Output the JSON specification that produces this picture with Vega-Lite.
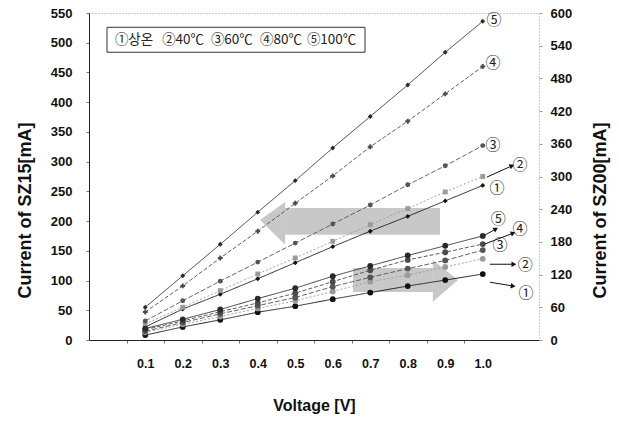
{
  "$schema": "https://vega.github.io/schema/vega-lite/v6.json",
  "width": 450,
  "height": 327,
  "autosize": "none",
  "padding": {"left": 89, "top": 13, "right": 80, "bottom": 81},
  "background": "white",
  "config": {
    "font": "Liberation Sans",
    "view": {"stroke": "#999", "strokeDash": [1, 2], "strokeWidth": 1},
    "axis": {"labelColor": "#111", "titleColor": "#111", "grid": false, "labelFont": "Liberation Sans", "titleFont": "Liberation Sans", "labelOverlap": false}
  },
  "datasets": {
    "sz15": [
      {"series": "①상온", "v": 0.1, "mA": 22}, {"series": "①상온", "v": 0.2, "mA": 52}, {"series": "①상온", "v": 0.3, "mA": 77}, {"series": "①상온", "v": 0.4, "mA": 103}, {"series": "①상온", "v": 0.5, "mA": 130},
      {"series": "①상온", "v": 0.6, "mA": 157}, {"series": "①상온", "v": 0.7, "mA": 183}, {"series": "①상온", "v": 0.8, "mA": 208}, {"series": "①상온", "v": 0.9, "mA": 234}, {"series": "①상온", "v": 1.0, "mA": 260},
      {"series": "②40℃", "v": 0.1, "mA": 27}, {"series": "②40℃", "v": 0.2, "mA": 55}, {"series": "②40℃", "v": 0.3, "mA": 83}, {"series": "②40℃", "v": 0.4, "mA": 111}, {"series": "②40℃", "v": 0.5, "mA": 138},
      {"series": "②40℃", "v": 0.6, "mA": 166}, {"series": "②40℃", "v": 0.7, "mA": 194}, {"series": "②40℃", "v": 0.8, "mA": 221}, {"series": "②40℃", "v": 0.9, "mA": 249}, {"series": "②40℃", "v": 1.0, "mA": 275},
      {"series": "③60℃", "v": 0.1, "mA": 32}, {"series": "③60℃", "v": 0.2, "mA": 66}, {"series": "③60℃", "v": 0.3, "mA": 99}, {"series": "③60℃", "v": 0.4, "mA": 131}, {"series": "③60℃", "v": 0.5, "mA": 163},
      {"series": "③60℃", "v": 0.6, "mA": 195}, {"series": "③60℃", "v": 0.7, "mA": 227}, {"series": "③60℃", "v": 0.8, "mA": 261}, {"series": "③60℃", "v": 0.9, "mA": 293}, {"series": "③60℃", "v": 1.0, "mA": 327},
      {"series": "④80℃", "v": 0.1, "mA": 47}, {"series": "④80℃", "v": 0.2, "mA": 91}, {"series": "④80℃", "v": 0.3, "mA": 138}, {"series": "④80℃", "v": 0.4, "mA": 183}, {"series": "④80℃", "v": 0.5, "mA": 230},
      {"series": "④80℃", "v": 0.6, "mA": 276}, {"series": "④80℃", "v": 0.7, "mA": 325}, {"series": "④80℃", "v": 0.8, "mA": 368}, {"series": "④80℃", "v": 0.9, "mA": 414}, {"series": "④80℃", "v": 1.0, "mA": 460},
      {"series": "⑤100℃", "v": 0.1, "mA": 55}, {"series": "⑤100℃", "v": 0.2, "mA": 108}, {"series": "⑤100℃", "v": 0.3, "mA": 161}, {"series": "⑤100℃", "v": 0.4, "mA": 215}, {"series": "⑤100℃", "v": 0.5, "mA": 268},
      {"series": "⑤100℃", "v": 0.6, "mA": 323}, {"series": "⑤100℃", "v": 0.7, "mA": 376}, {"series": "⑤100℃", "v": 0.8, "mA": 429}, {"series": "⑤100℃", "v": 0.9, "mA": 484}, {"series": "⑤100℃", "v": 1.0, "mA": 536}
    ],
    "sz00": [
      {"series": "①상온", "v": 0.1, "mA": 9}, {"series": "①상온", "v": 0.2, "mA": 24}, {"series": "①상온", "v": 0.3, "mA": 37}, {"series": "①상온", "v": 0.4, "mA": 51}, {"series": "①상온", "v": 0.5, "mA": 62},
      {"series": "①상온", "v": 0.6, "mA": 75}, {"series": "①상온", "v": 0.7, "mA": 87}, {"series": "①상온", "v": 0.8, "mA": 99}, {"series": "①상온", "v": 0.9, "mA": 110}, {"series": "①상온", "v": 1.0, "mA": 121},
      {"series": "②40℃", "v": 0.1, "mA": 14}, {"series": "②40℃", "v": 0.2, "mA": 29}, {"series": "②40℃", "v": 0.3, "mA": 43}, {"series": "②40℃", "v": 0.4, "mA": 58}, {"series": "②40℃", "v": 0.5, "mA": 72},
      {"series": "②40℃", "v": 0.6, "mA": 89}, {"series": "②40℃", "v": 0.7, "mA": 107}, {"series": "②40℃", "v": 0.8, "mA": 119}, {"series": "②40℃", "v": 0.9, "mA": 134}, {"series": "②40℃", "v": 1.0, "mA": 149},
      {"series": "③60℃", "v": 0.1, "mA": 16}, {"series": "③60℃", "v": 0.2, "mA": 32}, {"series": "③60℃", "v": 0.3, "mA": 48}, {"series": "③60℃", "v": 0.4, "mA": 63}, {"series": "③60℃", "v": 0.5, "mA": 78},
      {"series": "③60℃", "v": 0.6, "mA": 98}, {"series": "③60℃", "v": 0.7, "mA": 115}, {"series": "③60℃", "v": 0.8, "mA": 131}, {"series": "③60℃", "v": 0.9, "mA": 146}, {"series": "③60℃", "v": 1.0, "mA": 165},
      {"series": "④80℃", "v": 0.1, "mA": 19}, {"series": "④80℃", "v": 0.2, "mA": 35}, {"series": "④80℃", "v": 0.3, "mA": 52}, {"series": "④80℃", "v": 0.4, "mA": 68}, {"series": "④80℃", "v": 0.5, "mA": 86},
      {"series": "④80℃", "v": 0.6, "mA": 107}, {"series": "④80℃", "v": 0.7, "mA": 128}, {"series": "④80℃", "v": 0.8, "mA": 147}, {"series": "④80℃", "v": 0.9, "mA": 161}, {"series": "④80℃", "v": 1.0, "mA": 176},
      {"series": "⑤100℃", "v": 0.1, "mA": 21}, {"series": "⑤100℃", "v": 0.2, "mA": 38}, {"series": "⑤100℃", "v": 0.3, "mA": 56}, {"series": "⑤100℃", "v": 0.4, "mA": 76}, {"series": "⑤100℃", "v": 0.5, "mA": 95},
      {"series": "⑤100℃", "v": 0.6, "mA": 117}, {"series": "⑤100℃", "v": 0.7, "mA": 136}, {"series": "⑤100℃", "v": 0.8, "mA": 155}, {"series": "⑤100℃", "v": 0.9, "mA": 173}, {"series": "⑤100℃", "v": 1.0, "mA": 191}
    ],
    "key": [
      {"label": "①상온", "v": 0.019}, {"label": "②40℃", "v": 0.145}, {"label": "③60℃", "v": 0.275},
      {"label": "④80℃", "v": 0.406}, {"label": "⑤100℃", "v": 0.531}
    ],
    "keyBox": [{"from": -0.002, "to": 0.686, "lo": 484, "hi": 526}],
    "tags15": [
      {"tag": "⑤", "v": 1.03, "mA": 538}, {"tag": "④", "v": 1.027, "mA": 466}, {"tag": "③", "v": 1.027, "mA": 328},
      {"tag": "②", "v": 1.099, "mA": 294}, {"tag": "①", "v": 1.038, "mA": 256}
    ],
    "tags00": [
      {"tag": "⑤", "v": 1.041, "mA": 222}, {"tag": "④", "v": 1.099, "mA": 204}, {"tag": "③", "v": 1.046, "mA": 174},
      {"tag": "②", "v": 1.113, "mA": 138}, {"tag": "①", "v": 1.115, "mA": 86}
    ],
    "pointers15": [
      {"tag": "②", "v": 1.011, "mA": 274, "v2": 1.078, "mA2": 293}
    ],
    "pointers00": [
      {"tag": "⑤", "v": 1.005, "mA": 192, "v2": 1.035, "mA2": 204},
      {"tag": "④", "v": 1.005, "mA": 176, "v2": 1.081, "mA2": 196},
      {"tag": "②", "v": 1.019, "mA": 139, "v2": 1.083, "mA2": 139},
      {"tag": "①", "v": 1.019, "mA": 106, "v2": 1.081, "mA2": 99}
    ],
    "shaft15": [{"from": 0.473, "to": 0.886, "lo": 177, "hi": 222}],
    "head15": [{"v": 0.406, "lo": 202, "hi": 202}, {"v": 0.473, "lo": 160, "hi": 232}],
    "shaft00": [{"from": 0.654, "to": 0.867, "lo": 88, "hi": 132}],
    "head00": [{"v": 0.867, "lo": 70, "hi": 147}, {"v": 0.934, "lo": 110, "hi": 110}]
  },
  "layer": [
    {
      "layer": [
        {
          "data": {"name": "shaft15"},
          "mark": {"type": "rect", "fill": "#b0b0b0", "opacity": 0.7},
          "encoding": {
            "x": {
              "field": "from", "type": "quantitative",
              "scale": {"domain": [-0.05, 1.15], "nice": false, "zero": false},
              "axis": {
                "values": [0.1, 0.2, 0.3, 0.4, 0.5, 0.6, 0.7, 0.8, 0.9, 1.0],
                "tickCount": 20,
                "format": ".1f",
                "title": "Voltage [V]",
                "titleFontSize": 16, "titleFontWeight": "bold", "titlePadding": 28,
                "labelFontSize": 12.5, "labelFontWeight": "bold", "labelPadding": 14,
                "labelOverlap": false,
                "domainColor": "#222", "tickColor": "#777", "tickSize": 3,
                "tickOffset": -18.75, "labelOffset": 18.75
              }
            },
            "x2": {"field": "to"},
            "y": {
              "field": "lo", "type": "quantitative",
              "scale": {"domain": [0, 550], "nice": false},
              "axis": {
                "orient": "left",
                "values": [0, 50, 100, 150, 200, 250, 300, 350, 400, 450, 500, 550],
                "tickCount": 20,
                "title": "Current of  SZ15[mA]",
                "titleFontSize": 18, "titleFontWeight": "bold", "titlePadding": 16,
                "titleY": 197,
                "labelFontSize": 13, "labelFontWeight": "bold", "labelPadding": 14,
                "labelOverlap": false,
                "domainColor": "#222", "tickColor": "#777", "tickSize": 3
              }
            },
            "y2": {"field": "hi"}
          }
        },
        {
          "data": {"name": "head15"},
          "mark": {"type": "area", "fill": "#b0b0b0", "opacity": 0.7},
          "encoding": {
            "x": {"field": "v", "type": "quantitative"},
            "y": {"field": "lo", "type": "quantitative"},
            "y2": {"field": "hi"}
          }
        },
        {
          "data": {"name": "sz15"},
          "mark": {"type": "line", "strokeWidth": 0.9},
          "encoding": {
            "x": {"field": "v", "type": "quantitative"},
            "y": {"field": "mA", "type": "quantitative"},
            "color": {
              "field": "series", "type": "nominal",
              "scale": {
                "domain": ["①상온", "②40℃", "③60℃", "④80℃", "⑤100℃"],
                "range": ["#111111", "#9a9a9a", "#555555", "#4a4a4a", "#2a2a2a"]
              },
              "legend": null
            },
            "strokeDash": {
              "field": "series", "type": "nominal",
              "scale": {
                "domain": ["①상온", "②40℃", "③60℃", "④80℃", "⑤100℃"],
                "range": [[1, 0], [2, 2], [5, 2], [4, 2], [1, 0]]
              },
              "legend": null
            }
          }
        },
        {
          "data": {"name": "sz15"},
          "mark": {"type": "point", "filled": true, "size": 24, "opacity": 1},
          "encoding": {
            "x": {"field": "v", "type": "quantitative"},
            "y": {"field": "mA", "type": "quantitative"},
            "color": {"field": "series", "type": "nominal", "legend": null},
            "shape": {
              "field": "series", "type": "nominal", "legend": null,
              "scale": {
                "domain": ["①상온", "②40℃", "③60℃", "④80℃", "⑤100℃"],
                "range": ["diamond", "square", "circle", "cross", "diamond"]
              }
            }
          }
        },
        {
          "data": {"name": "pointers15"},
          "mark": {"type": "rule", "color": "#111", "strokeWidth": 1},
          "encoding": {
            "x": {"field": "v", "type": "quantitative"},
            "y": {"field": "mA", "type": "quantitative"},
            "x2": {"field": "v2"},
            "y2": {"field": "mA2"}
          }
        },
        {
          "data": {"name": "pointers15"},
          "mark": {"type": "point", "shape": "triangle-right", "filled": true, "color": "#111", "size": 30, "angle": -24, "opacity": 1},
          "encoding": {
            "x": {"field": "v2", "type": "quantitative"},
            "y": {"field": "mA2", "type": "quantitative"}
          }
        },
        {
          "data": {"name": "tags15"},
          "mark": {"type": "text", "font": "Noto Sans CJK KR", "fontSize": 15, "color": "#222"},
          "encoding": {
            "x": {"field": "v", "type": "quantitative"},
            "y": {"field": "mA", "type": "quantitative"},
            "text": {"field": "tag"}
          }
        },
        {
          "data": {"name": "keyBox"},
          "mark": {"type": "rect", "fill": "white", "stroke": "#333", "strokeWidth": 1},
          "encoding": {
            "x": {"field": "from", "type": "quantitative"},
            "x2": {"field": "to"},
            "y": {"field": "lo", "type": "quantitative"},
            "y2": {"field": "hi"}
          }
        },
        {
          "data": {"name": "key"},
          "mark": {"type": "text", "font": "Noto Sans CJK KR", "fontSize": 13.5, "color": "#222", "align": "left", "baseline": "middle"},
          "encoding": {
            "x": {"field": "v", "type": "quantitative"},
            "y": {"datum": 505, "type": "quantitative"},
            "text": {"field": "label"}
          }
        }
      ]
    },
    {
      "layer": [
        {
          "data": {"name": "shaft00"},
          "mark": {"type": "rect", "fill": "#b0b0b0", "opacity": 0.7},
          "encoding": {
            "x": {"field": "from", "type": "quantitative"},
            "x2": {"field": "to"},
            "y": {
              "field": "lo", "type": "quantitative",
              "scale": {"domain": [0, 600], "nice": false},
              "axis": {
                "orient": "right",
                "values": [0, 60, 120, 180, 240, 300, 360, 420, 480, 540, 600],
                "tickCount": 20,
                "title": "Current of  SZ00[mA]",
                "titleAngle": 270,
                "titleFontSize": 18, "titleFontWeight": "bold", "titlePadding": 38,
                "titleY": 197,
                "labelFontSize": 13, "labelFontWeight": "bold", "labelPadding": 8,
                "labelOverlap": false,
                "domain": false, "tickColor": "#999", "tickSize": 3
              }
            },
            "y2": {"field": "hi"}
          }
        },
        {
          "data": {"name": "head00"},
          "mark": {"type": "area", "fill": "#b0b0b0", "opacity": 0.7},
          "encoding": {
            "x": {"field": "v", "type": "quantitative"},
            "y": {"field": "lo", "type": "quantitative"},
            "y2": {"field": "hi"}
          }
        },
        {
          "data": {"name": "sz00"},
          "mark": {"type": "line", "strokeWidth": 0.9},
          "encoding": {
            "x": {"field": "v", "type": "quantitative"},
            "y": {"field": "mA", "type": "quantitative"},
            "color": {"field": "series", "type": "nominal", "legend": null},
            "strokeDash": {"field": "series", "type": "nominal", "legend": null}
          }
        },
        {
          "data": {"name": "sz00"},
          "mark": {"type": "point", "filled": true, "size": 34, "shape": "circle", "opacity": 1},
          "encoding": {
            "x": {"field": "v", "type": "quantitative"},
            "y": {"field": "mA", "type": "quantitative"},
            "color": {"field": "series", "type": "nominal", "legend": null}
          }
        },
        {
          "data": {"name": "pointers00"},
          "mark": {"type": "rule", "color": "#111", "strokeWidth": 1},
          "encoding": {
            "x": {"field": "v", "type": "quantitative"},
            "y": {"field": "mA", "type": "quantitative"},
            "x2": {"field": "v2"},
            "y2": {"field": "mA2"}
          }
        },
        {
          "data": {"name": "pointers00"},
          "transform": [{"filter": "datum.tag === '⑤'"}],
          "mark": {"type": "point", "shape": "triangle-right", "filled": true, "color": "#111", "size": 30, "angle": -30, "opacity": 1},
          "encoding": {
            "x": {"field": "v2", "type": "quantitative"},
            "y": {"field": "mA2", "type": "quantitative"}
          }
        },
        {
          "data": {"name": "pointers00"},
          "transform": [{"filter": "datum.tag === '④'"}],
          "mark": {"type": "point", "shape": "triangle-right", "filled": true, "color": "#111", "size": 30, "angle": -21, "opacity": 1},
          "encoding": {
            "x": {"field": "v2", "type": "quantitative"},
            "y": {"field": "mA2", "type": "quantitative"}
          }
        },
        {
          "data": {"name": "pointers00"},
          "transform": [{"filter": "datum.tag === '②'"}],
          "mark": {"type": "point", "shape": "triangle-right", "filled": true, "color": "#111", "size": 30, "angle": 0, "opacity": 1},
          "encoding": {
            "x": {"field": "v2", "type": "quantitative"},
            "y": {"field": "mA2", "type": "quantitative"}
          }
        },
        {
          "data": {"name": "pointers00"},
          "transform": [{"filter": "datum.tag === '①'"}],
          "mark": {"type": "point", "shape": "triangle-right", "filled": true, "color": "#111", "size": 30, "angle": 9, "opacity": 1},
          "encoding": {
            "x": {"field": "v2", "type": "quantitative"},
            "y": {"field": "mA2", "type": "quantitative"}
          }
        },
        {
          "data": {"name": "tags00"},
          "mark": {"type": "text", "font": "Noto Sans CJK KR", "fontSize": 15, "color": "#222"},
          "encoding": {
            "x": {"field": "v", "type": "quantitative"},
            "y": {"field": "mA", "type": "quantitative"},
            "text": {"field": "tag"}
          }
        }
      ]
    }
  ],
  "resolve": {"scale": {"y": "independent"}}
}
